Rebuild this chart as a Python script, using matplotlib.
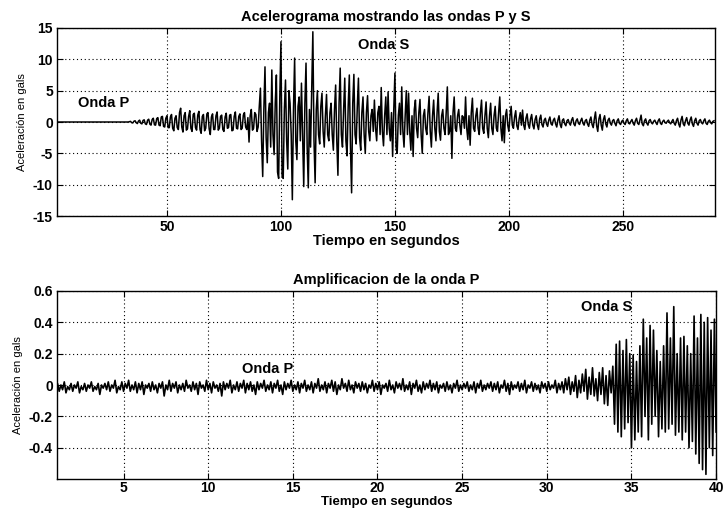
import numpy as np
import matplotlib
matplotlib.use("Agg")
import matplotlib.pyplot as plt
from matplotlib.ticker import FixedLocator, FixedFormatter

plt.rcParams['font.family'] = ['Liberation Sans', 'DejaVu Sans']
plt.rcParams['axes.unicode_minus'] = False

# ---------------- data: full accelerogram (0.5 s sampling, t = 1..290 s) ----------------
top_t0 = 1.0
top_dt = 0.5
top_acc = [
    0, 0, 0, 0, 0, 0, 0, 0, 0, 0,
    0, 0, 0, 0, 0, 0, 0, 0, 0, 0,
    0, 0, 0, 0, 0, 0, 0, 0, 0, 0,
    0, 0, 0, 0, 0, 0, 0, 0, 0, 0,
    0, 0, 0, 0, 0, 0, 0, 0, 0, 0,
    0, 0, 0, 0, 0, 0, 0, 0, 0, 0,
    0, 0, 0, 0, 0, 0.05, 0.1, -0.1, -0.15, 0.12,
    0.2, -0.1, -0.25, 0.15, 0.3, -0.2, -0.3, 0.25, 0.35, -0.3,
    -0.4, 0.3, 0.45, -0.35, -0.5, 0.4, 0.6, -0.45, -0.5, 0.55,
    0.7, -0.5, -0.6, 0.8, 0.9, -0.7, -0.8, 0.6, 1.0, -0.9,
    -0.9, 0.8, 1.2, -1.0, -1.4, 0.6, 1.0, -0.9, -1.2, 1.5,
    2.2, -0.8, -1.6, 1.0, 1.5, -1.3, -1.1, 0.9, 1.8, -1.0,
    -1.5, 1.2, 1.4, -0.9, -1.3, 1.1, 1.7, -1.2, -1.8, 0.9,
    1.2, -1.4, -1.0, 1.3, 1.5, -1.1, -2.0, 0.8, 1.3, -1.2,
    -1.2, 1.0, 1.6, -1.3, -1.0, 0.9, 1.1, -1.2, -1.5, 0.8,
    1.4, -1.0, -0.9, 1.1, 1.2, -1.4, -1.3, 0.9, 1.6, -1.0,
    -1.1, 0.9, 1.3, -1.2, -1.0, 1.1, 1.5, -0.8, -1.2, 0.7,
    -3.2, 1.0, 2.0, -1.3, -1.0, 1.5, 1.2, -1.5, -0.8, 2.5,
    5.4, -3.0, -8.7, 2.0, 8.8, -2.5, -6.5, 1.5, 3.0, -4.0,
    8.3, -2.0, -5.2, 3.0, 7.5, -8.0, -9.0, 4.0, 12.8, -8.5,
    -9.0, 2.0, 6.7, -3.0, -7.5, 5.0, 3.0, -2.0, -12.4, 2.0,
    10.2, -3.0, -6.0, 2.5, 4.0, -3.0, 6.2, -2.0, -10.3, 3.0,
    9.4, -4.0, -10.5, 2.0, -4.0, 5.0, 14.4, -3.0, -9.7, 2.0,
    5.0, -2.0, -3.5, 2.5, 4.6, -1.5, -4.0, 1.0, 4.4, -2.0,
    -3.0, 1.5, 3.0, -2.0, -4.5, 2.0, 5.9, -3.0, -8.5, 3.0,
    8.6, -2.0, -4.0, 2.0, 7.0, -3.0, -5.4, 2.5, 7.5, -4.0,
    -11.3, 3.0, 7.6, -2.0, -3.5, 2.5, 7.0, -2.5, -4.5, 1.5,
    4.0, -2.0, -5.0, 1.5, 4.2, -1.5, -3.0, 1.0, 2.0, -1.5,
    3.5, -1.0, -3.0, 1.5, 2.5, -2.0, 5.5, -1.5, -3.8, 1.0,
    4.0, -2.0, 4.8, -1.0, -3.0, 1.5, -5.5, 2.0, 7.8, -4.0,
    -5.0, 1.0, 3.0, -2.0, 5.6, -1.5, -4.0, 1.0, 5.0, -2.0,
    4.6, -1.5, -4.5, 1.0, -5.5, 2.0, 3.5, -1.0, -2.5, 1.5,
    3.6, -2.0, -5.0, 1.0, 2.0, -1.0, -2.0, 1.5, 4.1, -1.5,
    -4.0, 1.0, 3.5, -1.0, -3.0, 1.5, 4.6, -1.5, -2.9, 1.0,
    2.0, -1.0, -2.0, 1.5, 5.6, -2.0, -1.5, 1.0, -5.8, 1.5,
    4.0, -1.0, -1.5, 1.0, 2.0, -0.5, -2.0, 1.0, 0.8, -1.0,
    4.0, -1.0, -2.8, 1.0, -3.7, 1.5, 3.8, -1.0, -1.5, 1.0,
    2.2, -1.0, -2.0, 1.5, 3.5, -1.0, -1.8, 1.0, 3.2, -1.0,
    -2.5, 1.0, 3.0, -1.0, -2.0, 1.0, 2.5, -1.0, -1.5, 1.5,
    4.0, -1.0, -3.0, 1.0, -3.3, 1.0, 2.0, -0.5, -1.5, 1.0,
    2.5, -0.5, -1.0, 0.8, 1.8, -0.6, -1.2, 0.5, 1.5, -0.5,
    1.9, -0.5, -1.2, 0.6, 1.3, -0.4, -1.0, 0.5, 1.2, -0.5,
    -1.1, 0.4, 1.0, -0.5, -1.2, 0.5, 1.1, -0.4, -0.8, 0.3,
    0.6, -0.3, -0.7, 0.3, 0.8, -0.3, -0.5, 0.3, 0.6, -0.3,
    -0.8, 0.3, 1.0, -0.4, -0.9, 0.3, 0.5, -0.3, -0.6, 0.2,
    0.4, -0.2, -0.5, 0.3, 0.7, -0.3, -0.6, 0.2, 0.5, -0.2,
    -0.4, 0.2, 0.6, -0.2, -0.5, 0.2, 0.4, -0.3, -0.7, 0.3,
    0.8, -0.4, -0.9, 0.5, 1.6, -0.6, -1.5, 0.5, 1.2, -0.5,
    -1.3, 0.4, 1.0, -0.3, -0.8, 0.3, 0.6, -0.2, -0.5, 0.2,
    0.4, -0.2, -0.6, 0.2, 0.5, -0.2, -0.4, 0.1, 0.3, -0.2,
    -0.4, 0.2, 0.5, -0.2, -0.3, 0.1, 0.4, -0.2, -0.5, 0.2,
    0.6, -0.2, -0.4, 0.3, 1.1, -0.3, -0.6, 0.2, 0.5, -0.2,
    -0.5, 0.2, 0.4, -0.1, -0.3, 0.1, 0.3, -0.1, -0.4, 0.2,
    0.5, -0.2, -0.4, 0.1, 0.3, -0.1, -0.2, 0.1, 0.3, -0.1,
    -0.3, 0.1, 0.4, -0.2, -0.5, 0.2, 0.6, -0.3, -0.8, 0.3,
    0.9, -0.3, -0.6, 0.2, 0.7, -0.2, -0.5, 0.3, 0.8, -0.3,
    -0.7, 0.2, 0.6, -0.2, -0.5, 0.2, 0.4, -0.1, -0.3, 0.2,
    0.5, -0.2, -0.4, 0.1, 0.3, -0.1, -0.3, 0.1, 0.2,
]

# ---------------- data: amplified P wave (0.1 s sampling, t = 1..40 s) ----------------
bot_t0 = 1.0
bot_dt = 0.1
bot_acc = [
    -0.02, 0.01, -0.04, 0.00, -0.03, 0.02, -0.05, -0.01, -0.03, 0.01,
    -0.04, 0.00, -0.02, 0.02, -0.05, -0.01, -0.03, 0.01, -0.04, 0.00,
    -0.02, 0.02, -0.04, -0.01, -0.03, 0.01, -0.06, 0.00, -0.02, 0.01,
    -0.03, 0.02, -0.04, 0.00, -0.02, 0.03, -0.05, -0.01, -0.03, 0.02,
    -0.04, 0.01, -0.02, 0.03, -0.04, 0.00, -0.03, 0.02, -0.05, 0.01,
    -0.03, 0.02, -0.06, 0.00, -0.02, 0.01, -0.04, 0.02, -0.03, 0.00,
    -0.05, 0.01, -0.02, 0.02, -0.07, 0.00, -0.03, 0.03, -0.04, 0.01,
    -0.02, 0.02, -0.05, 0.00, -0.03, 0.01, -0.04, 0.03, -0.02, 0.00,
    -0.04, 0.02, -0.03, 0.01, -0.06, 0.02, -0.02, 0.00, -0.04, 0.03,
    -0.03, 0.01, -0.05, 0.02, -0.02, 0.00, -0.04, 0.01, -0.07, 0.02,
    -0.03, 0.01, -0.02, 0.03, -0.05, 0.00, -0.03, 0.02, -0.04, 0.01,
    -0.02, 0.03, -0.05, 0.01, -0.03, 0.02, -0.04, 0.00, -0.06, 0.02,
    -0.03, 0.01, -0.02, 0.03, -0.04, 0.00, -0.03, 0.02, -0.05, 0.01,
    -0.02, 0.03, -0.04, 0.00, -0.06, 0.02, -0.03, 0.01, -0.02, 0.03,
    -0.04, 0.00, -0.03, 0.02, -0.05, 0.01, -0.02, 0.03, -0.04, 0.00,
    -0.03, 0.02, -0.05, 0.01, -0.02, 0.04, -0.04, 0.00, -0.03, 0.02,
    -0.05, 0.01, -0.02, 0.03, -0.04, 0.02, -0.06, 0.00, -0.03, 0.04,
    -0.02, 0.01, -0.04, 0.03, -0.03, 0.00, -0.05, 0.02, -0.02, 0.01,
    -0.04, 0.02, -0.03, 0.01, -0.05, 0.00, -0.02, 0.03, -0.04, 0.01,
    -0.03, 0.02, -0.06, 0.00, -0.02, 0.01, -0.04, 0.03, -0.03, 0.00,
    -0.05, 0.02, -0.02, 0.01, -0.03, 0.04, -0.04, 0.00, -0.03, 0.02,
    -0.06, 0.01, -0.02, 0.03, -0.04, 0.00, -0.05, 0.02, -0.03, 0.01,
    -0.02, 0.03, -0.04, 0.01, -0.03, 0.02, -0.05, 0.00, -0.02, 0.01,
    -0.04, 0.02, -0.03, 0.00, -0.05, 0.01, -0.02, 0.03, -0.04, 0.00,
    -0.03, 0.01, -0.02, 0.02, -0.04, 0.00, -0.03, 0.02, -0.05, 0.01,
    -0.02, 0.03, -0.04, 0.00, -0.03, 0.01, -0.02, 0.02, -0.04, 0.01,
    -0.03, 0.02, -0.05, 0.00, -0.02, 0.03, -0.04, 0.01, -0.06, 0.02,
    -0.03, 0.00, -0.02, 0.02, -0.04, 0.01, -0.03, 0.03, -0.05, 0.00,
    -0.02, 0.02, -0.04, 0.01, -0.03, 0.00, -0.05, 0.02, -0.02, 0.01,
    -0.04, 0.02, -0.03, 0.00, -0.02, 0.03, -0.05, 0.01, -0.03, 0.02,
    -0.05, 0.04, -0.03, 0.05, -0.06, 0.02, -0.04, 0.06, -0.08, 0.03,
    -0.05, 0.07, -0.04, 0.10, -0.09, 0.05, -0.06, 0.11, -0.07, 0.04,
    -0.10, 0.08, -0.06, 0.11, -0.12, 0.06, -0.13, 0.09, -0.05, 0.12,
    -0.25, 0.26, -0.30, 0.28, -0.33, 0.22, -0.28, 0.29, -0.24, 0.20,
    -0.40, 0.19, -0.35, 0.15, -0.30, 0.25, -0.33, 0.42, -0.20, 0.30,
    -0.35, 0.38, -0.25, 0.35, -0.20, 0.22, -0.33, 0.15, -0.28, 0.25,
    -0.30, 0.46, -0.28, 0.30, -0.25, 0.50, -0.32, 0.20, -0.30, 0.30,
    -0.35, 0.31, -0.30, 0.25, -0.40, 0.20, -0.36, 0.44, -0.44, 0.30,
    -0.50, 0.45, -0.54, 0.40, -0.57, 0.43, -0.40, 0.35, -0.45, 0.42,
    -0.30,
]

top_title = "Acelerograma mostrando las ondas P y S"
bot_title = "Amplificacion de la onda P"
xlabel_txt = "Tiempo en segundos"
ylabel_txt = "Aceleración en gals"

top_xticks = [50, 100, 150, 200, 250]
top_yticks = [-15, -10, -5, 0, 5, 10, 15]
top_ytick_labels = ["-15", "-10", "-5", "0", "5", "10", "15"]
bot_xticks = [5, 10, 15, 20, 25, 30, 35, 40]
bot_yticks = [-0.4, -0.2, 0.0, 0.2, 0.4, 0.6]
bot_ytick_labels = ["-0.4", "-0.2", "0", "0.2", "0.4", "0.6"]

top_notes = [("Onda P", 11.0, 3.0), ("Onda S", 134.0, 12.3)]
bot_notes = [("Onda P", 12.0, 0.10), ("Onda S", 32.0, 0.50)]

# ---------------- figure ----------------
fig = plt.figure(figsize=(7.27, 5.09), dpi=100)
ax1 = fig.add_axes([0.0784, 0.5756, 0.905, 0.3694])
ax2 = fig.add_axes([0.0784, 0.0589, 0.9066, 0.3694])

top_time = top_t0 + top_dt * np.arange(len(top_acc))
bot_time = bot_t0 + bot_dt * np.arange(len(bot_acc))

ax1.plot(top_time, top_acc, color='black', lw=1.1)
ax2.plot(bot_time, bot_acc, color='black', lw=1.2)

def style(ax, xt, yt, ytl):
    ax.xaxis.set_major_locator(FixedLocator(xt))
    ax.yaxis.set_major_locator(FixedLocator(yt))
    ax.yaxis.set_major_formatter(FixedFormatter(ytl))
    ax.grid(True, color='black', linestyle=(0, (1, 2.5)), linewidth=0.8)
    ax.tick_params(direction='in', length=4, width=0.8, top=True, right=True,
                   labelsize=10, pad=3)
    for lab in ax.get_xticklabels() + ax.get_yticklabels():
        lab.set_fontweight('bold')
    for sp in ax.spines.values():
        sp.set_linewidth(1.0)
        sp.set_color('black')

txt_size = 10.5

ax1.set_xlim(1.75, 290.4)
ax1.set_ylim(-15, 15)
style(ax1, top_xticks, top_yticks, top_ytick_labels)
ax1.set_title(top_title, fontsize=txt_size, fontweight='bold', pad=5)
ax1.set_xlabel(xlabel_txt, fontsize=txt_size, fontweight='bold', labelpad=0)
ax1.set_ylabel(ylabel_txt, fontsize=8, labelpad=4)
for txt, x, y in top_notes:
    ax1.text(x, y, txt, fontsize=txt_size, fontweight='bold', va='center', ha='left')

ax2.set_xlim(1.07, 40)
ax2.set_ylim(-0.6, 0.6)
style(ax2, bot_xticks, bot_yticks, bot_ytick_labels)
ax2.tick_params(axis='x', pad=1.5)
ax2.set_title(bot_title, fontsize=txt_size, fontweight='bold', pad=5)
ax2.set_xlabel(xlabel_txt, fontsize=9.5, fontweight='bold')
ax2.xaxis.set_label_coords(0.5, -0.088)
ax2.set_ylabel(ylabel_txt, fontsize=8, labelpad=4)
for txt, x, y in bot_notes:
    ax2.text(x, y, txt, fontsize=txt_size, fontweight='bold', va='center', ha='left')

fig.savefig("out.png", dpi=100)
